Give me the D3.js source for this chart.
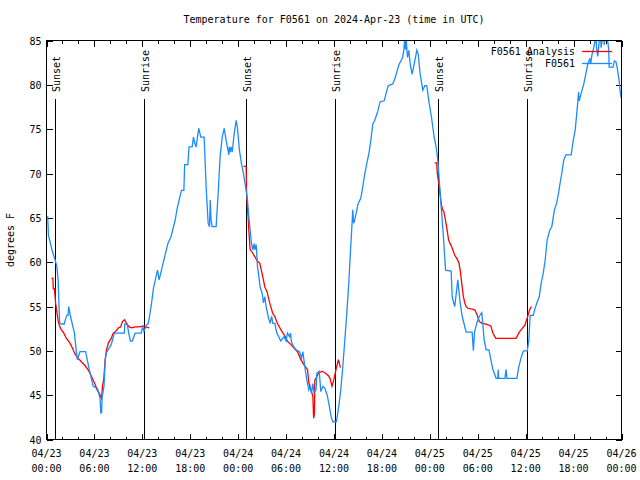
<!DOCTYPE html>
<html><head><meta charset="utf-8">
<script src="https://cdn.jsdelivr.net/npm/d3@7"></script>
<style>
html,body{margin:0;padding:0;background:#fff;}
svg{display:block;background:#fff;}
text{font-family:"DejaVu Sans Mono","Liberation Mono",monospace;font-size:10px;fill:#000;}
</style></head><body>
<svg id="chart" width="640" height="480"></svg>
<script>
const titleText = "Temperature for F0561 on 2024-Apr-23 (time in UTC)";
const yLabelText = "degrees F";
const seriesNames = ["F0561 Analysis", "F0561"];
const seriesColors = ["#ff0000", "#1a8cff"];
const startTime = "2024-04-23T00:00:00Z";
const endTime = "2024-04-26T00:00:00Z";
const yTicks = [40, 45, 50, 55, 60, 65, 70, 75, 80, 85];
const eventLabels = ["Sunset", "Sunrise", "Sunset", "Sunrise", "Sunset", "Sunrise"];
const eventHours = [1.13, 12.27, 25.04, 36.19, 49.09, 60.23];

// observed (hours after start, deg F)
const obsHours = [0.0,0.15,0.25,0.45,0.65,0.95,1.1,1.3,1.45,1.55,1.65,2.2,2.4,2.55,2.7,2.78,3.0,3.5,3.85,4.2,4.9,5.35,5.85,6.35,6.7,6.8,6.9,6.95,7.2,7.35,7.5,8.1,8.5,9.75,9.8,10.1,10.3,10.5,10.75,11.1,11.85,12.05,12.2,12.5,12.75,12.9,13.1,13.4,13.8,13.9,14.1,14.5,14.9,15.2,15.6,16.1,16.4,16.9,17.2,17.3,17.7,17.85,18.24,18.4,18.57,18.74,18.9,19.07,19.32,19.74,19.99,20.24,20.41,20.5,20.6,20.74,21.24,21.49,21.74,22.0,22.25,22.5,22.83,22.9,23.0,23.1,23.25,23.5,23.75,23.9,24.16,24.41,24.66,25.0,25.16,25.33,25.5,25.67,25.83,26.0,26.1,26.25,26.3,26.42,26.59,26.75,27.0,27.17,27.34,27.5,27.75,28.0,28.2,28.34,28.59,28.84,29.34,29.76,30.0,30.17,30.43,30.55,30.68,30.93,31.26,31.68,31.93,32.1,32.35,32.6,32.85,33.01,33.18,33.35,33.5,33.75,33.85,34.15,34.35,34.6,34.85,35.15,35.45,35.65,35.85,36.3,36.6,36.85,37.1,37.35,37.6,37.85,38.02,38.19,38.35,38.45,38.55,38.77,39.02,39.35,39.6,39.86,40.1,40.36,40.61,40.86,41.11,41.44,41.78,42.28,42.78,43.36,43.7,44.1,44.6,44.75,44.86,44.95,45.05,45.2,45.37,45.53,45.78,46.12,46.37,46.54,46.79,47.12,47.37,47.62,47.87,48.2,48.54,48.79,49.0,49.2,49.4,49.7,49.97,50.67,50.8,51.05,51.12,51.4,51.5,51.63,51.8,52.05,52.3,52.55,53.3,53.45,53.6,53.9,54.2,54.5,54.64,54.8,55.05,55.4,55.64,55.9,56.3,56.5,56.56,56.62,57.4,57.55,57.65,58.9,59.14,59.48,59.73,60.2,60.4,60.56,60.95,61.15,61.4,61.7,61.94,62.19,62.44,62.69,63.02,63.27,63.6,63.86,64.1,64.27,64.52,64.77,65.03,65.7,65.95,66.2,66.36,66.53,66.62,66.7,66.94,67.28,67.53,67.78,68.03,68.15,68.28,68.53,68.78,68.9,69.03,69.2,69.35,69.45,69.7,69.85,69.95,70.2,70.4,70.45,70.95,71.1,71.3,71.45,71.7,71.87,71.98];
const obsTemps = [65.1,65.1,63.0,62.3,61.5,60.6,60.2,59.5,58.0,55.5,53.1,53.0,53.6,54.0,54.0,55.0,53.9,52.0,49.0,49.9,49.9,47.9,46.0,45.8,44.7,43.0,43.0,44.7,46.0,49.0,49.8,50.7,52.0,52.0,53.0,53.0,52.0,51.1,51.1,52.0,52.0,52.75,52.2,52.9,53.1,53.9,55.0,57.1,58.7,59.1,58.0,59.5,61.0,62.1,62.9,64.7,66.2,68.1,68.1,71.0,71.0,73.0,73.0,74.1,73.4,73.0,74.1,75.1,74.1,74.1,68.5,64.4,64.0,67.0,64.8,64.0,64.0,67.7,71.9,74.1,75.1,73.7,72.1,73.0,72.4,73.0,72.4,74.5,76.0,75.2,72.6,71.1,70.0,68.1,67.0,65.1,63.6,62.1,61.4,62.1,61.4,62.0,61.4,59.5,58.4,57.2,56.5,55.4,56.1,55.0,53.9,53.1,53.9,53.1,53.1,52.0,51.1,51.6,51.1,52.0,51.6,52.0,51.0,50.5,50.1,49.9,49.2,49.9,48.2,46.7,45.6,46.0,45.2,46.3,45.3,45.6,47.5,47.7,45.4,46.0,45.8,45.0,43.6,42.5,42.0,42.0,43.75,45.6,48.2,51.2,54.2,57.6,60.6,63.2,65.9,64.4,64.6,65.5,66.6,67.2,68.5,70.0,71.1,72.2,73.7,75.6,76.0,76.9,78.1,78.2,79.9,80.1,80.9,82.2,83.1,84.0,85.2,84.0,85.0,83.1,83.9,82.4,81.2,82.7,83.9,83.5,81.2,79.4,79.9,79.9,78.2,76.4,74.1,73.0,71.5,69.0,66.5,62.9,59.1,59.0,56.1,55.2,55.0,57.2,58.0,56.9,55.4,53.9,53.0,52.1,52.1,50.0,52.1,53.2,53.9,54.3,53.0,51.2,50.1,50.1,49.0,47.9,46.9,46.9,47.9,46.9,46.9,47.9,46.9,46.9,48.2,49.4,50.0,50.0,51.2,54.0,54.0,54.7,55.4,56.1,57.6,58.7,60.2,62.5,63.6,64.0,65.9,66.6,67.7,68.7,70.0,71.5,72.1,72.1,73.7,74.9,76.4,78.1,79.2,78.2,79.0,80.1,81.2,82.4,82.9,82.4,83.3,84.2,85.5,84.0,83.2,84.8,86.0,84.2,85.8,84.5,86.0,85.5,84.0,82.0,82.0,82.7,82.6,82.0,80.5,79.0,78.5];

// analysis (null = gap)
const anaHours = [0.63,0.8,0.85,1.0,1.13,1.29,1.46,1.6,1.84,2.17,2.5,2.92,3.26,3.59,3.92,4.34,4.76,5.18,5.43,5.84,6.09,6.34,6.68,6.84,6.9,7.01,7.18,7.35,7.51,7.76,8.1,8.35,8.68,9.02,9.27,9.52,9.77,10.02,10.35,10.68,11.1,11.6,12.1,12.44,12.85,
  13.5,
  24.66,25.0,25.05,25.16,25.25,25.33,25.5,25.7,26.1,26.42,26.7,27.0,27.34,27.6,27.95,28.34,28.59,28.9,29.34,29.76,30.17,30.6,31.0,31.43,31.85,32.26,32.68,32.85,33.1,33.35,33.45,33.55,33.6,33.85,34.1,34.5,34.9,35.3,35.5,35.75,36.0,36.3,36.55,36.8,
  40.0,
  48.6,48.85,48.95,49.2,49.4,49.6,49.75,49.9,50.1,50.35,50.55,50.8,51.1,51.4,51.65,51.8,52.0,52.2,52.38,52.55,52.75,53.3,53.64,53.9,54.2,54.55,55.05,55.64,55.9,56.25,56.6,58.8,59.2,59.56,59.9,60.23,60.48,60.73];
const anaTemps = [58.2,58.2,57.0,57.0,55.5,54.4,53.4,52.9,52.4,52.0,51.4,50.9,50.3,49.6,49.2,48.8,48.4,47.9,47.5,46.7,46.2,45.6,45.1,44.7,44.6,46.0,46.9,49.0,50.1,50.9,51.4,52.0,52.2,52.6,52.7,53.3,53.5,53.1,52.7,52.6,52.7,52.7,52.8,52.7,52.6,
  null,
  70.8,70.8,68.0,66.2,65.1,63.6,61.4,61.2,60.6,60.1,59.9,58.7,57.2,56.7,55.4,54.2,53.9,53.1,52.4,51.8,51.1,50.7,50.3,49.9,49.0,48.4,47.9,46.4,45.6,44.9,42.4,42.9,46.7,47.1,47.5,47.7,47.5,47.2,46.9,46.0,46.8,48.1,49.0,48.1,
  null,
  71.2,71.2,69.9,68.4,66.7,65.9,65.7,65.0,64.0,62.5,62.1,61.6,60.8,60.4,59.9,59.1,57.6,56.1,55.4,55.0,54.8,54.7,54.6,54.1,53.3,53.1,53.0,52.8,52.0,51.4,51.4,51.4,52.1,52.5,52.9,53.8,54.6,55.0];

const L = 46.5, R = 621.5, T = 40.5, B = 439.5;
const svg = d3.select("#chart");
const t0 = new Date(startTime), t1 = new Date(endTime);
const hr = h => new Date(t0.getTime() + h * 3600e3);
const x = d3.scaleUtc().domain([t0, t1]).range([L, R]);
const y = d3.scaleLinear().domain([40, 85]).range([B, T]);

svg.append("defs").append("clipPath").attr("id", "clip")
  .append("rect").attr("x", L).attr("y", T).attr("width", R - L).attr("height", B - T);

svg.append("text").attr("x", (L + R) / 2).attr("y", 23).attr("text-anchor", "middle").text(titleText);
svg.append("text").attr("transform", "translate(14,240) rotate(-90)").attr("text-anchor", "middle").text(yLabelText);

const majorTicks = d3.utcHour.every(6).range(t0, new Date(t1.getTime() + 1));
const minorTicks = d3.utcHour.every(2).range(t0, t1).filter(d => d.getUTCHours() % 6 !== 0);

const axB = d3.axisBottom(x).tickValues(majorTicks).tickSizeInner(-6).tickSizeOuter(0).tickFormat("");
const axT = d3.axisTop(x).tickValues(majorTicks).tickSizeInner(-6).tickSizeOuter(0).tickFormat("");
const axBm = d3.axisBottom(x).tickValues(minorTicks).tickSizeInner(-3).tickSizeOuter(0).tickFormat("");
const axTm = d3.axisTop(x).tickValues(minorTicks).tickSizeInner(-3).tickSizeOuter(0).tickFormat("");
const axL = d3.axisLeft(y).tickValues(yTicks).tickSizeInner(-6).tickSizeOuter(0).tickPadding(6).tickFormat(d3.format("d"));
const axR = d3.axisRight(y).tickValues(yTicks).tickSizeInner(-6).tickSizeOuter(0).tickFormat("");

function styleAxis(g) {
  g.select(".domain").remove();
  g.selectAll("line").attr("stroke", "#000").attr("shape-rendering", "crispEdges");
  g.attr("font-family", null).attr("font-size", null);
}
svg.append("g").attr("transform", `translate(0,${B})`).call(axB).call(styleAxis);
svg.append("g").attr("transform", `translate(0,${T})`).call(axT).call(styleAxis);
svg.append("g").attr("transform", `translate(0,${B})`).call(axBm).call(styleAxis);
svg.append("g").attr("transform", `translate(0,${T})`).call(axTm).call(styleAxis);
svg.append("g").attr("transform", `translate(${L},0)`).call(axL).call(styleAxis)
  .selectAll("text").attr("x", -5).attr("dy", "0.35em");
svg.append("g").attr("transform", `translate(${R},0)`).call(axR).call(styleAxis);

const fmtD = d3.utcFormat("%m/%d"), fmtT = d3.utcFormat("%H:%M");
const xl = svg.append("g").selectAll("text").data(majorTicks).join("text").attr("text-anchor", "middle");
xl.append("tspan").attr("x", d => x(d)).attr("y", 457).text(d => fmtD(d));
xl.append("tspan").attr("x", d => x(d)).attr("y", 472).text(d => fmtT(d));

const ev = svg.append("g");
eventHours.forEach((h, i) => {
  const xe = Math.round(x(hr(h)) - 0.5) + 0.5;
  ev.append("line").attr("x1", xe).attr("x2", xe).attr("y1", 99).attr("y2", B)
    .attr("stroke", "#000").attr("stroke-width", 1).attr("shape-rendering", "crispEdges");
  ev.append("text").attr("transform", `translate(${xe + 4.5},92) rotate(-90)`).text(eventLabels[i]);
});

const plot = svg.append("g").attr("clip-path", "url(#clip)");
const line = d3.line().defined(d => d[1] != null).x(d => x(hr(d[0]))).y(d => y(d[1]));
const anaData = anaHours.map((h, i) => [h, anaTemps[i]]);
const obsData = obsHours.map((h, i) => [h, obsTemps[i]]);
plot.append("path").datum(anaData).attr("d", line).attr("fill", "none")
  .attr("stroke", seriesColors[0]).attr("stroke-width", 1.3);
plot.append("path").datum(obsData).attr("d", line).attr("fill", "none")
  .attr("stroke", seriesColors[1]).attr("stroke-width", 1.3);

const lg = svg.append("g");
seriesNames.forEach((n, i) => {
  const yy = 51 + i * 12;
  lg.append("text").attr("x", 575).attr("y", yy + 3.5).attr("text-anchor", "end").text(n);
  lg.append("line").attr("x1", 582).attr("x2", 612).attr("y1", yy + 0.5).attr("y2", yy + 0.5)
    .attr("stroke", seriesColors[i]).attr("stroke-width", 1.3);
});

svg.append("rect").attr("x", L).attr("y", T).attr("width", R - L).attr("height", B - T)
  .attr("fill", "none").attr("stroke", "#000").attr("stroke-width", 1).attr("shape-rendering", "crispEdges");
</script>
</body></html>
